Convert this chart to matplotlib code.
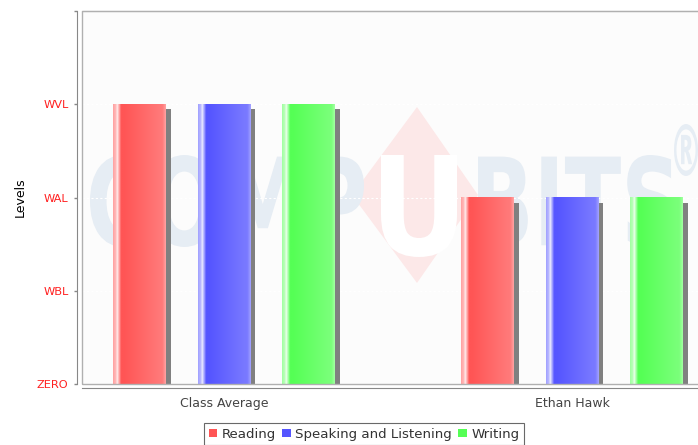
import numpy as np
import matplotlib
matplotlib.use("Agg")
import matplotlib.pyplot as plt
from matplotlib.patches import Patch, Polygon, PathPatch
from matplotlib.textpath import TextPath
from matplotlib.font_manager import FontProperties
import matplotlib.transforms as mtransforms

# data -------------------------------------------------------------
students = ["Class Average", "Ethan Hawk"]
series = ["Reading", "Speaking and Listening", "Writing"]
reading = [3, 2]
speaking = [3, 2]
writing = [3, 2]
level_labels = ["ZERO", "WBL", "WAL", "WVL", ""]
colors = ["#ff5555", "#5555ff", "#55ff55"]

W, H = 698, 445
fig = plt.figure(figsize=(W / 100, H / 100), dpi=100)
fig.patch.set_facecolor("white")

# plot area extends a little past the right edge like the original
ax = fig.add_axes([82 / W, 61 / H, (714 - 82) / W, 373 / H])
ax.set_facecolor("#fcfcfc")

# pixel coordinates (y down) for the watermark
pix = mtransforms.Affine2D().scale(1 / W, -1 / H).translate(0, 1) + fig.transFigure


def fit_text(s, x0, x1, y0, y1, color, z):
    tp = TextPath((0, 0), s, size=100, prop=FontProperties(family="DejaVu Sans", weight="bold"))
    bb = tp.get_extents()
    tr = (mtransforms.Affine2D().translate(-bb.x0, -bb.y0)
          .scale((x1 - x0) / bb.width, -(y1 - y0) / bb.height)
          .translate(x0, y1))
    pp = PathPatch(tr.transform_path(tp), facecolor=color, edgecolor="none",
                   transform=pix, zorder=z)
    ax.add_patch(pp)
    pp.set_clip_path(ax.patch)


dia = Polygon([[417, 107], [478, 195], [417, 283], [352, 195]], closed=True,
              facecolor="#fce8e8", edgecolor="none", transform=pix, zorder=0.2)
ax.add_patch(dia)
dia.set_clip_path(ax.patch)
fit_text("COMP", 90, 364, 155, 247, "#e6edf4", 0.3)
fit_text("U", 381, 457, 155, 257, "white", 0.3)
fit_text("BITS", 478, 675, 155, 247, "#e6edf4", 0.3)
fit_text("\u00ae", 674, 698, 124, 176, "#e6edf4", 0.3)

# bars -------------------------------------------------------------
x = np.arange(len(students))
offsets = [-0.243, 0, 0.243]
width = 0.152
values = [reading, speaking, writing]

shadow_tr = mtransforms.offset_copy(ax.transData, fig=fig, x=5, y=-5, units="dots")


def mix(c, t):
    rgb = np.array(matplotlib.colors.to_rgb(c))
    return rgb + (1 - rgb) * t


for i in range(len(series)):
    ax.bar(x + offsets[i], values[i], width, color="#808080", transform=shadow_tr, zorder=1)
    bars = ax.bar(x + offsets[i], values[i], width, color=colors[i], zorder=2, label=series[i])
    stops = [(0.0, 0.45), (0.05, 0.6), (0.075, 0.9), (0.11, 0.5), (0.15, 0.0), (0.2, 0.0),
             (0.85, 0.2), (0.94, 0.22), (1.0, 0.45)]
    xs = np.linspace(0, 1, 80)
    ts = np.interp(xs, [s[0] for s in stops], [s[1] for s in stops])
    grad = np.array([mix(colors[i], t) for t in ts])[None, :, :]
    for b in bars:
        ax.imshow(grad, extent=(b.get_x(), b.get_x() + b.get_width(), 0, b.get_height()),
                  aspect="auto", interpolation="bilinear", zorder=2.5)

ax.set_xlim(-0.408, 1.408)
ax.set_ylim(0, 4)

# axes styling -----------------------------------------------------
ax.set_axisbelow(True)
ax.yaxis.grid(True, color="white", linestyle=(0, (2, 2)), linewidth=0.8)
for s in ["top", "right"]:
    ax.spines[s].set_color("#b0b0b0")
ax.spines["left"].set_position(("outward", 3.6))
ax.spines["bottom"].set_position(("outward", 3.2))
ax.spines["left"].set_color("#888888")
ax.spines["bottom"].set_color("#888888")
ax.add_patch(plt.Rectangle((0, 0), 1, 1, transform=ax.transAxes, fill=False,
                           edgecolor="#b0b0b0", linewidth=1, zorder=3, clip_on=False))

ax.set_yticks(range(len(level_labels)))
ax.set_yticklabels(level_labels, color="#ff2020", fontsize=8.2)
ax.tick_params(axis="y", length=2.5, width=1, color="#888888", pad=3.6)
ax.set_xticks(x)
ax.set_xticklabels(students, color="#444444", fontsize=9)
ax.tick_params(axis="x", length=0, pad=6)
ax.set_ylabel("Levels", fontsize=9)
ax.yaxis.set_label_coords(-0.088, 0.5)

handles = [Patch(facecolor=c, edgecolor="none") for c in colors]
leg = fig.legend(handles, series, loc="upper center", bbox_to_anchor=(364 / W, 1 - 423 / H),
                 ncol=3, fontsize=9.6, frameon=True, fancybox=False, edgecolor="#444444",
                 handlelength=0.65, handleheight=0.65, handletextpad=0.3, columnspacing=0.5,
                 borderpad=0.35, borderaxespad=0)
leg.get_frame().set_linewidth(0.8)
for t in leg.get_texts():
    t.set_color("#333333")

fig.savefig("out.png", dpi=100)
